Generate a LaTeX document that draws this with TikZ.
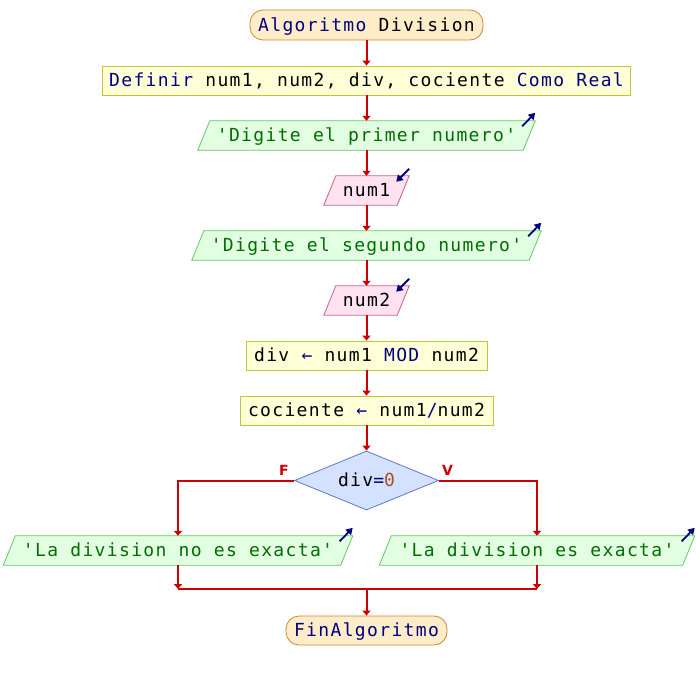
\documentclass[tikz,border=0pt]{standalone}
\usepackage{fontspec}
\newfontfamily\mono[LetterSpace=7.5]{DejaVu Sans Mono}
\newfontfamily\lbl{DejaVu Sans}
\usetikzlibrary{shapes.geometric,arrows.meta,backgrounds,calc}
\definecolor{termf}{RGB}{255,236,200}
\definecolor{termd}{RGB}{204,136,51}
\definecolor{procf}{RGB}{255,255,215}
\definecolor{procd}{RGB}{196,196,60}
\definecolor{outf}{RGB}{226,255,226}
\definecolor{outd}{RGB}{100,200,100}
\definecolor{outt}{RGB}{0,110,0}
\definecolor{inf}{RGB}{255,226,240}
\definecolor{ind}{RGB}{200,96,140}
\definecolor{decf}{RGB}{212,226,255}
\definecolor{decd}{RGB}{90,120,210}
\definecolor{flowc}{RGB}{204,0,0}
\definecolor{kw}{RGB}{0,0,128}
\definecolor{numc}{RGB}{170,80,40}
\tikzset{
  base/.style={font=\mono\fontsize{18}{20}\selectfont, minimum height=29pt, inner sep=0pt, text height=12pt, text depth=0pt, anchor=center},
  term/.style={base, rounded corners=13pt, draw=termd, fill=termf, line width=0.8pt},
  proc/.style={base, draw=procd, fill=procf, line width=0.8pt},
  iobox/.style={base},
  dec/.style={base, diamond, aspect=2.44, minimum width=144pt, minimum height=59pt, draw=decd, fill=decf, line width=0.8pt},
  flowline/.style={draw=flowc, line width=2pt},
  flow/.style={flowline, -{Triangle[length=5pt,width=8pt]}},
  icon/.style={draw=kw, line width=1.8pt, -{Triangle[length=6.5pt,width=7.5pt]}},
  brlabel/.style={text=flowc, font=\lbl\bfseries\fontsize{14}{16}\selectfont, inner sep=0pt},
}
\newcommand\pgram[3]{%
  \begin{pgfonlayer}{background}
    \draw[#3, fill=#2, line width=0.8pt] ($(#1.south west)+(-6,0)$) -- ($(#1.south east)+(-6,0)$) -- ($(#1.north east)+(6,0)$) -- ($(#1.north west)+(6,0)$) -- cycle;
  \end{pgfonlayer}}
\newcommand\outicon[1]{\draw[icon] ($(#1.north east)+(-7,5.5)$) -- ($(#1.north east)+(6,-8)$);}
\newcommand\inicon[1]{\draw[icon] ($(#1.north east)+(6,-7)$) -- ($(#1.north east)+(-7,6)$);}
\begin{document}
\begin{tikzpicture}[x=1pt,y=-1pt]
\useasboundingbox (0,0) rectangle (696,680);
\begin{pgfonlayer}{background}
  \fill[white] (0,0) rectangle (696,680);
\end{pgfonlayer}
\node[term, minimum width=233pt, minimum height=30pt] (start) at (366.5,25) {{\color{kw}Algoritmo} Division};
\node[proc, minimum width=528pt] (def) at (366.5,80.5) {{\color{kw}Definir} num1, num2, div, cociente {\color{kw}Como Real}};
\node[iobox, minimum width=325pt, text=outt] (o1) at (366.5,135.5) {'Digite el primer numero'};
\node[iobox, minimum width=73pt] (in1) at (366.5,190.5) {num1};
\node[iobox, minimum width=337pt, text=outt] (o2) at (366.5,245.5) {'Digite el segundo numero'};
\node[iobox, minimum width=73pt] (in2) at (366.5,300.5) {num2};
\node[proc, minimum width=241pt] (a1) at (366.5,355.5) {div {\color{kw}←} num1 {\color{kw}MOD} num2};
\node[proc, minimum width=253pt] (a2) at (366.5,410.5) {cociente {\color{kw}←} num1{\color{kw}/}num2};
\node[dec] (d) at (366.5,480.5) {div{\color{kw}=}{\color{numc}0}};
\node[iobox, minimum width=337pt, text=outt] (o3) at (178,550.5) {'La division no es exacta'};
\node[iobox, minimum width=303pt, text=outt] (o4) at (537,550.5) {'La division es exacta'};
\node[term, minimum width=161pt, text=kw] (end) at (366.5,630.5) {FinAlgoritmo};
\node[brlabel] (F) at (284,470) {F};
\node[brlabel] (V) at (447.5,470) {V};
\pgram{o1}{outf}{outd}
\pgram{o2}{outf}{outd}
\pgram{o3}{outf}{outd}
\pgram{o4}{outf}{outd}
\pgram{in1}{inf}{ind}
\pgram{in2}{inf}{ind}
\outicon{o1}
\outicon{o2}
\outicon{o3}
\outicon{o4}
\inicon{in1}
\inicon{in2}
\coordinate (jl) at (178,589);
\coordinate (jr) at (537,589);
\coordinate (jm) at (366.5,589);
\draw[flow] (start) -- (def);
\draw[flow] (def) -- (o1);
\draw[flow] (o1) -- (in1);
\draw[flow] (in1) -- (o2);
\draw[flow] (o2) -- (in2);
\draw[flow] (in2) -- (a1);
\draw[flow] (a1) -- (a2);
\draw[flow] (a2) -- (d);
\draw[flow] (d.west) -| (o3.north);
\draw[flow] (d.east) -| (o4.north);
\draw[flow] (o3.south) -- (jl);
\draw[flow] (o4.south) -- (jr);
\draw[flowline] (jl) -- (jr);
\draw[flow] (jm) -- (end);
\end{tikzpicture}
\end{document}
